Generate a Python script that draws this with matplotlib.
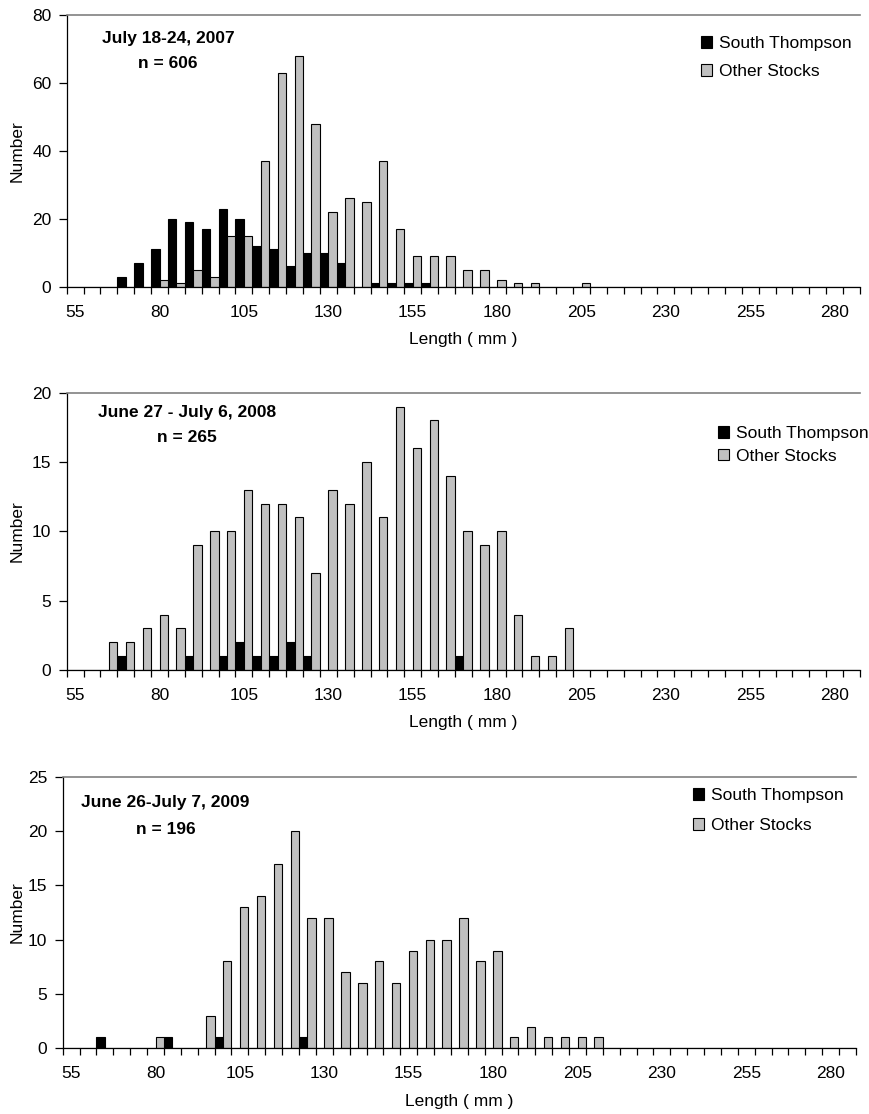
import numpy as np
import matplotlib
matplotlib.use("Agg")
import matplotlib.pyplot as plt

plt.rcParams['font.family'] = ['Liberation Sans', 'DejaVu Sans']

# Length categories (mm), 5-mm bins
categories = list(range(55, 290, 5))
tick_labels = ['55', '80', '105', '130', '155', '180', '205', '230', '255', '280']

# 2007 panel
st_2007 = [0, 0, 0, 3, 7, 11, 20, 19, 17, 23, 20, 12, 11, 6, 10, 10, 7, 0, 1, 1, 1, 1,
           0, 0, 0, 0, 0, 0, 0, 0, 0, 0, 0, 0, 0, 0, 0, 0, 0, 0, 0, 0, 0, 0, 0, 0, 0]
ot_2007 = [0, 0, 0, 0, 0, 2, 1, 5, 3, 15, 15, 37, 63, 68, 48, 22, 26, 25, 37, 17, 9, 9,
           9, 5, 5, 2, 1, 1, 0, 0, 1, 0, 0, 0, 0, 0, 0, 0, 0, 0, 0, 0, 0, 0, 0, 0, 0]
# 2008 panel
st_2008 = [0, 0, 0, 1, 0, 0, 0, 1, 0, 1, 2, 1, 1, 2, 1, 0, 0, 0, 0, 0, 0, 0,
           0, 1, 0, 0, 0, 0, 0, 0, 0, 0, 0, 0, 0, 0, 0, 0, 0, 0, 0, 0, 0, 0, 0, 0, 0]
ot_2008 = [0, 0, 2, 2, 3, 4, 3, 9, 10, 10, 13, 12, 12, 11, 7, 13, 12, 15, 11, 19, 16, 18,
           14, 10, 9, 10, 4, 1, 1, 3, 0, 0, 0, 0, 0, 0, 0, 0, 0, 0, 0, 0, 0, 0, 0, 0, 0]
# 2009 panel
st_2009 = [0, 0, 1, 0, 0, 0, 1, 0, 0, 1, 0, 0, 0, 0, 1, 0, 0, 0, 0, 0, 0, 0,
           0, 0, 0, 0, 0, 0, 0, 0, 0, 0, 0, 0, 0, 0, 0, 0, 0, 0, 0, 0, 0, 0, 0, 0, 0]
ot_2009 = [0, 0, 0, 0, 0, 1, 0, 0, 3, 8, 13, 14, 17, 20, 12, 12, 7, 6, 8, 6, 9, 10,
           10, 12, 8, 9, 1, 2, 1, 1, 1, 1, 0, 0, 0, 0, 0, 0, 0, 0, 0, 0, 0, 0, 0, 0, 0]

titles = ["July 18-24, 2007", "June 27 - July 6, 2008", "June 26-July 7, 2009"]
n_labels = ["n = 606", "n = 265", "n = 196"]
y_max = [80, 20, 25]
y_step = [20, 5, 5]

W, H = 870, 1114
fig = plt.figure(figsize=(W / 100, H / 100), dpi=100)

# panel geometry in pixels: left, right, top, bottom
geoms = [(66.7, 860, 14.7, 286.7), (66.7, 860, 392.7, 670), (62.7, 856, 776.7, 1048.3)]
# annotation centres (px) and legend anchors (px: marker left, vertical middle, row spacing)
ann = [(168, 39, 64), (187, 413, 438), (165.5, 802.7, 829)]
leg = [(701, 57.8, 0.76), (718, 445, 0.42), (693, 810.8, 0.88)]

series = [(st_2007, ot_2007), (st_2008, ot_2008), (st_2009, ot_2009)]
FS = 12.5
ncat = len(categories)
idx = np.arange(ncat)

for k, (st, ot) in enumerate(series):
    l, r, t, b = geoms[k]
    ax = fig.add_axes([l / W, (H - b) / H, (r - l) / W, (b - t) / H])
    wpx, hpx = r - l, b - t
    h1 = ax.bar(idx, st, width=0.5, align='edge', color='black', edgecolor='black',
                linewidth=0.8, label='South Thompson')
    h2 = ax.bar(idx + 0.5, ot, width=0.5, align='edge', color='#C0C0C0', edgecolor='black',
                linewidth=0.8, label='Other Stocks')
    ax.set_xlim(0, ncat)
    ax.set_ylim(0, y_max[k])
    ax.set_yticks(np.arange(0, y_max[k] + 1, y_step[k]))
    ax.set_xticks(np.arange(0, ncat + 1))
    ax.set_xticklabels([])
    lab_pos = [categories.index(int(s)) + 0.5 for s in tick_labels]
    ax.set_xticks(lab_pos, minor=True)
    ax.set_xticklabels(tick_labels, minor=True)
    ax.tick_params(axis='x', which='major', direction='out', length=5, width=0.9)
    ax.tick_params(axis='x', which='minor', length=0, pad=13, labelsize=FS)
    ax.tick_params(axis='y', direction='out', length=6, width=0.9, pad=5, labelsize=FS)
    for s in ['left', 'bottom']:
        ax.spines[s].set_color('black')
        ax.spines[s].set_linewidth(0.9)
    ax.spines['top'].set_color('#808080')
    ax.spines['top'].set_linewidth(1.2)
    ax.spines['right'].set_visible(False)

    ax.set_xlabel("Length ( mm )", fontsize=FS, va='center')
    ax.xaxis.set_label_coords(0.5, -53 / hpx)
    ax.set_ylabel("Number", fontsize=FS, va='center')
    ax.yaxis.set_label_coords((17.5 - l) / wpx, 0.5)

    ax_x, y1, y2 = ann[k]
    ax.text((ax_x - l) / wpx, (b - y1) / hpx, titles[k], transform=ax.transAxes,
            ha='center', va='center', fontsize=FS, fontweight='bold')
    ax.text((ax_x - l) / wpx, (b - y2) / hpx, n_labels[k], transform=ax.transAxes,
            ha='center', va='center', fontsize=FS, fontweight='bold')

    lx, ly, ls = leg[k]
    ax.legend(handles=[h1, h2], loc='center left',
              bbox_to_anchor=((lx - l) / wpx, (b - ly) / hpx),
              frameon=False, fontsize=FS, handlelength=0.66, handleheight=0.66,
              handletextpad=0.4, labelspacing=ls, borderpad=0, borderaxespad=0)

fig.savefig("out.png", dpi=100)
